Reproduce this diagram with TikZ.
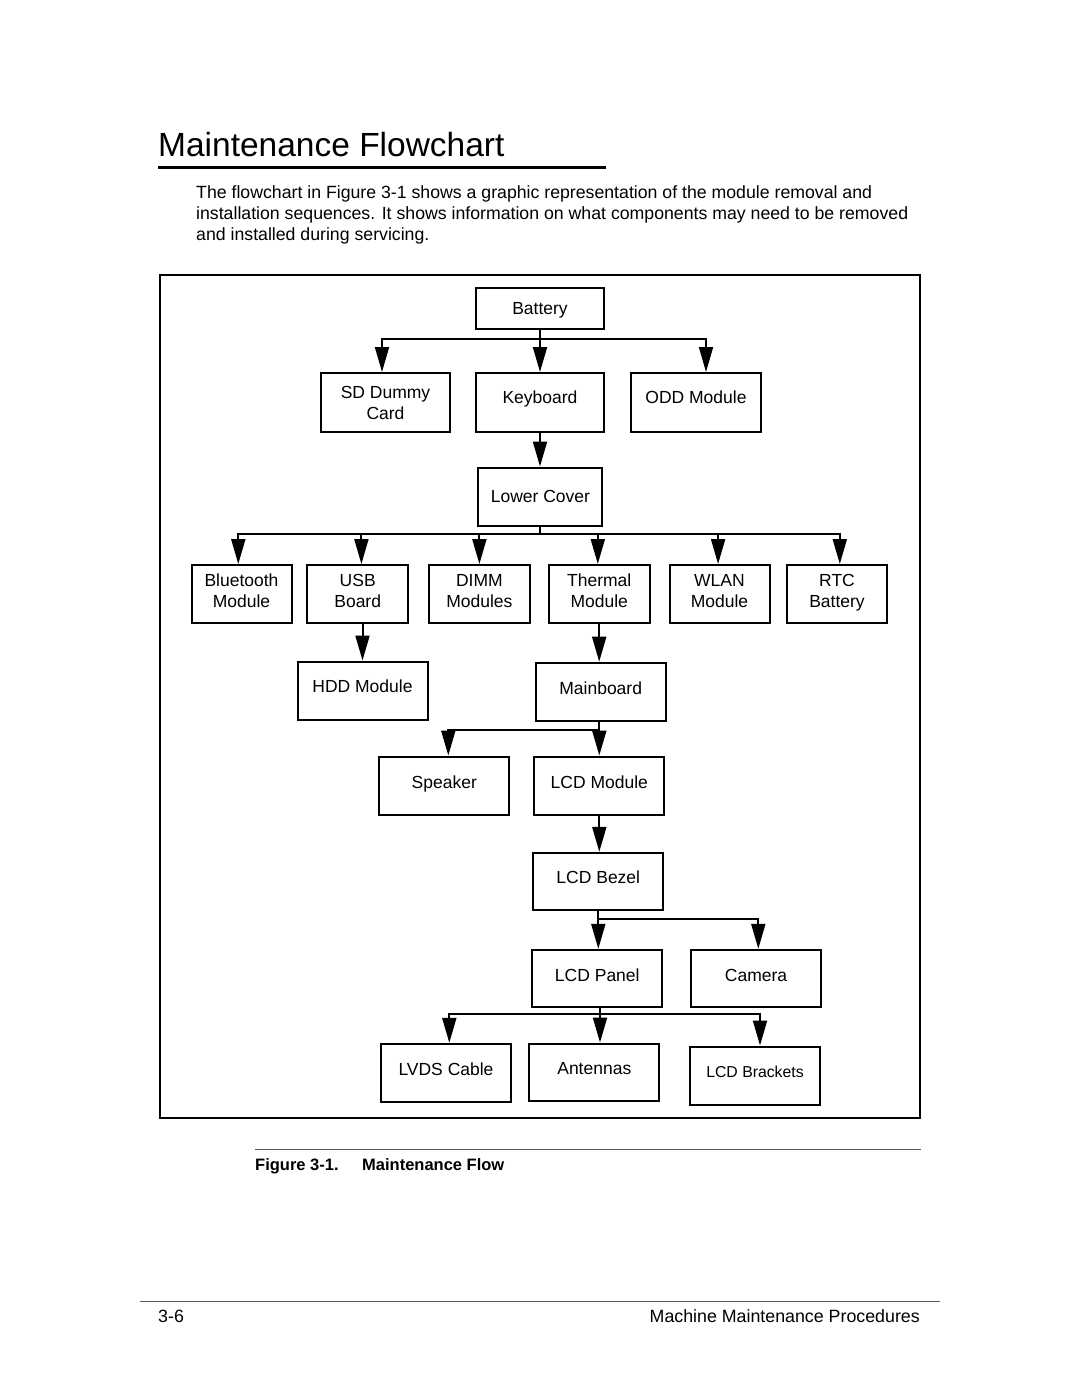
\documentclass[tikz,border=0pt]{standalone}
\usepackage{fontspec}
\setmainfont{Liberation Sans}
\usetikzlibrary{arrows.meta}
\newcommand\boxfont{\fontsize{17.5}{21}\selectfont}
\newcommand\up[2]{\raisebox{#1pt}{#2}}
\newcommand\sh[2]{\raisebox{#1pt}[\height][\depth]{#2}}
\newcommand\twol[2]{\begin{tabular}{@{}c@{}}#1\\#2\end{tabular}}
\begin{document}
\begin{tikzpicture}[x=1pt,y=-1pt,
  box/.style={draw, line width=2pt, minimum width=#1, minimum height=58pt, inner sep=0pt, font=\boxfont},
  box/.default=130pt,
  conn/.style={line width=2pt, -{Triangle[length=25pt,width=14pt]}},
  para/.style={anchor=base west, inner sep=0pt, font=\fontsize{17.7}{21}\selectfont},
  rulegray/.style={line width=1pt, draw=black!65}]
\fill[white] (0,0) rectangle (1080,1397);
\useasboundingbox (0,0) rectangle (1080,1397);

% title and text
\node[anchor=base west, inner sep=0pt, font=\fontsize{33.5}{38}\selectfont] (title) at (158,156) {Maintenance Flowchart};
\draw[line width=3.5pt] (158,167.5) -- (606,167.5);
\node[para] (p1) at (196,198) {The flowchart in Figure 3-1 shows a graphic representation of the module removal and};
\node[para] (p2) at (196,219) {installation sequences. It shows information on what components may need to be removed};
\node[para] (p3) at (196,240) {and installed during servicing.};

% frame
\draw[line width=2pt] (160,275) rectangle (920,1118);

% boxes
\node[box=128pt, minimum height=41pt] (bat) at (540,308.5) {\sh{-2}{Battery}};
\node[box=129pt, minimum height=59pt] (sd) at (385.5,402.5) {\sh{-2}{\twol{SD Dummy}{Card}}};
\node[box=128pt, minimum height=59pt] (kb) at (540,402.5) {\up{10}{Keyboard}};
\node[box=130pt, minimum height=59pt] (odd) at (696,402.5) {\up{10}{ODD Module}};
\node[box=124pt] (lc) at (540.4,496.5) {Lower Cover};

\node[box=100pt] (bt) at (241.5,594) {\sh{1}{\up{5}{\twol{Bluetooth}{Module}}}};
\node[box=101pt] (usb) at (357.7,594) {\sh{1}{\up{5}{\twol{USB}{Board}}}};
\node[box=101pt] (dimm) at (479.4,594) {\sh{1}{\up{5}{\twol{DIMM}{Modules}}}};
\node[box=101pt] (th) at (599.2,594) {\sh{1}{\up{5}{\twol{Thermal}{Module}}}};
\node[box=100pt] (wlan) at (719.5,594) {\sh{1}{\up{5}{\twol{WLAN}{Module}}}};
\node[box=100pt] (rtc) at (837,594) {\sh{1}{\up{5}{\twol{RTC}{Battery}}}};

\node[box] (hdd) at (362.5,690.5) {\up{9}{HDD Module}};
\node[box] (mb) at (600.7,691.7) {\up{8}{Mainboard}};
\node[box] (spk) at (444.3,785.5) {\up{7}{Speaker}};
\node[box] (lcdm) at (599.3,785.5) {\up{6}{LCD Module}};
\node[box, minimum height=57pt] (bez) at (598.3,881.3) {\up{9}{LCD Bezel}};
\node[box, minimum height=57pt] (pan) at (597.3,978.3) {\up{6}{LCD Panel}};
\node[box, minimum height=57pt] (cam) at (756,978.3) {\up{6}{Camera}};
\node[box] (lvds) at (446,1072.8) {\up{7}{LVDS Cable}};
\node[box, minimum height=57pt] (ant) at (594.3,1072) {\up{7}{Antennas}};
\node[box, font=\fontsize{15.8}{19}\selectfont] (brk) at (755,1075.5) {\up{8}{LCD Brackets}};

% connectors
\draw[conn] (bat.south) -- ++(0,9) -| ([xshift=-3.5pt]sd.north);
\draw[conn] (bat.south) -- (kb.north);
\draw[conn] (bat.south) -- ++(0,9) -| ([xshift=10pt]odd.north);
\draw[conn] (kb.south) -- (kb.south |- lc.north);

\draw[conn] (lc.south) -- ++(0,7.6) -| ([xshift=-3.2pt]bt.north);
\draw[conn] (lc.south) -- ++(0,7.6) -| ([xshift=3.7pt]usb.north);
\draw[conn] (lc.south) -- ++(0,7.6) -| (dimm.north);
\draw[conn] (lc.south) -- ++(0,7.6) -| ([xshift=-1.4pt]th.north);
\draw[conn] (lc.south) -- ++(0,7.6) -| ([xshift=-1.4pt]wlan.north);
\draw[conn] (lc.south) -- ++(0,7.6) -| ([xshift=2.8pt]rtc.north);

\draw[conn] (usb.south -| hdd.north) -- (hdd.north);
\draw[conn] (th.south) -- (th.south |- mb.north);

\draw[conn] ([xshift=-2pt]mb.south) -- ++(0,8.6) -| ([xshift=4pt]spk.north);
\draw[conn] (mb.south -| lcdm.north) -- (lcdm.north);
\draw[conn] (lcdm.south) -- (lcdm.south |- bez.north);

\draw[conn] (bez.south) -- ++(0,7.7) -| ([xshift=2.3pt]cam.north);
\draw[conn] (bez.south) -- (bez.south |- pan.north);

\draw[conn] ([xshift=2.7pt]pan.south) -- ++(0,6.6) -| ([xshift=3.3pt]lvds.north);
\draw[conn] ([xshift=2.7pt]pan.south) -- ([xshift=5.7pt]ant.north);
\draw[conn] ([xshift=2.7pt]pan.south) -- ++(0,6.6) -| ([xshift=5pt]brk.north);

% caption and footer
\draw[rulegray] (255,1149) -- (921,1149);
\node[anchor=base west, inner sep=0pt, font=\fontsize{16.5}{19}\selectfont\bfseries] (cap1) at (255,1170) {Figure 3-1.};
\node[anchor=base west, inner sep=0pt, font=\fontsize{16.5}{19}\selectfont\bfseries] (cap2) at (362,1170) {Maintenance Flow};
\draw[rulegray] (140,1301) -- (940,1301);
\node[anchor=base west, inner sep=0pt, font=\fontsize{17.8}{20}\selectfont] (pg) at (158,1322) {3-6};
\node[anchor=base east, inner sep=0pt, font=\fontsize{17.8}{20}\selectfont] (chap) at (920,1322) {Machine Maintenance Procedures};
\end{tikzpicture}
\end{document}
